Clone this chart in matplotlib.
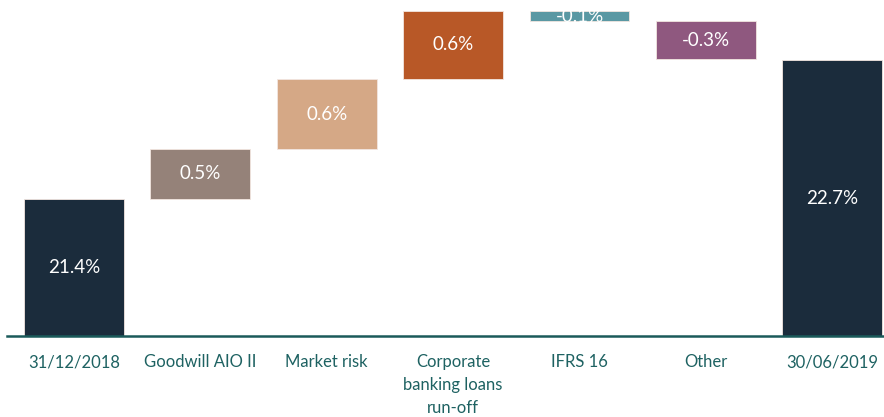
import numpy as np
import matplotlib.pyplot as plt

categories = ['31/12/2018', 'Goodwill AIO II', 'Market risk', 'Corporate\nbanking loans\nrun-off',
              'IFRS 16', 'Other', '30/06/2019']
values = [21.4, 0.47, 0.65, 0.64, -0.10, -0.35, 22.7]
labels = ['21.4%', '0.5%', '0.6%', '0.6%', '-0.1%', '-0.3%', '22.7%']
colors = ['#1b2c3c', '#958279', '#d5a886', '#b85827', '#5a98a3', '#8f587f', '#1b2c3c']

ymin = 20.12
plt.rcParams['font.family'] = ['Lato', 'DejaVu Sans']

fig = plt.figure(figsize=(8.84, 4.17), dpi=100)
ax = fig.add_axes([0, 0.194, 1, 0.806])

# waterfall bottoms / tops
bottoms = []
heights = []
run = 0
for i, v in enumerate(values):
    if i == 0 or i == len(values) - 1:
        bottoms.append(ymin)
        heights.append(v - ymin)
        run = v
    else:
        bottoms.append(min(run, run + v))
        heights.append(abs(v))
        run = run + v

x = np.arange(len(values))
ax.bar(x, heights, bottom=bottoms, width=0.79, color=colors, edgecolor='#f2e6e0', linewidth=0.6)

for i in range(len(values)):
    ax.text(x[i], bottoms[i] + heights[i] / 2, labels[i], ha='center', va='center',
            color='white', fontsize=13.5)

ax.set_xlim(-0.585, 6.409)
ax.set_ylim(ymin, ymin + 336 / 107)
ax.set_xticks(x)
ax.set_xticklabels(categories, color='#1e6262', fontsize=12, linespacing=1.55, va='top')
ax.tick_params(axis='x', length=0, pad=13)
ax.set_yticks([])
for s in ['top', 'right', 'left']:
    ax.spines[s].set_visible(False)
ax.spines['bottom'].set_color('#1a5a5a')
ax.spines['bottom'].set_linewidth(1.8)
ax.spines['bottom'].set_bounds(-0.53, 6.409)

fig.savefig('out.png', dpi=100)
